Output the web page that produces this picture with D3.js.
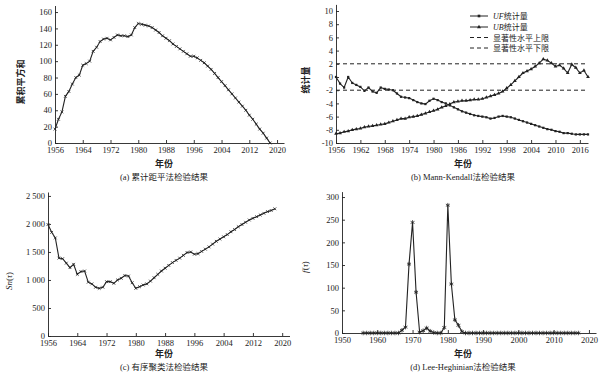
<!DOCTYPE html>
<html>
<head>
<meta charset="utf-8">
<script src="https://cdn.jsdelivr.net/npm/d3@7"></script>
<style>
  body { margin: 0; background: #fff; }
  svg text { font-family: "Liberation Serif", "Noto Sans CJK SC", serif; fill: #222; }
  .axis path, .axis line { stroke: #222; stroke-width: 0.9; }
</style>
</head>
<body>
<svg id="chart" width="600" height="377"></svg>
<script>
(function() {

// years of the record (1956-2018)
const years = [1956,1957,1958,1959,1960,1961,1962,1963,1964,1965,1966,1967,1968,1969,1970,
  1971,1972,1973,1974,1975,1976,1977,1978,1979,1980,1981,1982,1983,1984,1985,1986,1987,
  1988,1989,1990,1991,1992,1993,1994,1995,1996,1997,1998,1999,2000,2001,2002,2003,2004,
  2005,2006,2007,2008,2009,2010,2011,2012,2013,2014,2015,2016,2017,2018];

// (a) cumulative anomaly
const cumAnomaly = [17,29,38,57,63,72,80,83,95,97,100,112,117,124,127,128,126,129,132,131,
  131,130,132,141,146,145,144,143,141,138,135,131,128,125,121,118,115,112,109,106,106,104,
  101,98,94,90,85,80,75,70,65,60,55,50,45,40,34,29,23,17,12,6,0];

// (b) Mann-Kendall
const mkUF = [0,-1.0,-1.6,0.0,-0.9,-1.2,-1.5,-2.1,-1.6,-2.2,-2.4,-1.6,-1.8,-1.9,-2.0,-2.5,
  -3.0,-3.1,-3.2,-3.5,-3.8,-4.0,-4.1,-3.6,-3.3,-3.5,-3.8,-4.0,-4.3,-4.6,-4.9,-5.2,-5.4,
  -5.6,-5.8,-5.9,-6.0,-6.1,-6.3,-6.2,-6.0,-5.9,-6.0,-6.1,-6.3,-6.5,-6.7,-6.9,-7.1,-7.3,
  -7.5,-7.7,-7.9,-8.0,-8.2,-8.3,-8.5,-8.5,-8.6,-8.7,-8.7,-8.7,-8.7];
const mkUB = [-8.6,-8.5,-8.3,-8.2,-8.0,-7.9,-7.8,-7.6,-7.5,-7.4,-7.3,-7.2,-7.1,-6.9,-6.7,
  -6.5,-6.3,-6.3,-6.1,-6.0,-5.9,-5.7,-5.5,-5.3,-5.1,-4.9,-4.6,-4.4,-4.1,-3.8,-3.7,-3.6,
  -3.6,-3.5,-3.4,-3.4,-3.3,-3.1,-2.9,-2.7,-2.5,-2.2,-1.7,-1.2,-0.6,0.0,0.6,0.9,1.2,1.6,
  2.1,2.7,2.5,2.1,1.6,1.8,1.3,0.6,1.9,1.4,0.6,1.0,0.0];
const mkLimits = [2, -2];
const mkLegend = ["UF", "UB", "显著性水平上限", "显著性水平下限"];

// (c) ordered clustering Sn(tau)
const snTau = [1990,1850,1750,1390,1380,1300,1220,1280,1100,1150,1160,960,930,870,850,870,
  970,970,940,1000,1030,1080,1070,950,850,880,910,930,980,1040,1100,1160,1210,1260,1310,
  1350,1390,1440,1490,1500,1460,1470,1510,1550,1590,1640,1690,1730,1770,1810,1860,1900,
  1950,1990,2030,2070,2100,2130,2160,2190,2220,2240,2270];

// (d) Lee-Heghinian f(tau), 1956-2017
const lhYears = years.slice(0, 62);
const lhF = [0,0,0,0,0,0,0,0,0,0,0,6,13,152,244,90,2,5,11,4,1,0,0,12,282,108,29,17,3,0,
  0,0,0,0,0,0,0,0,0,0,0,0,0,0,0,0,0,0,0,0,0,0,0,0,0,0,0,0,0,0,0,0];

const xTicksA = [1956,1964,1972,1980,1988,1996,2004,2012,2020];
const xTicksB = [1956,1962,1968,1974,1980,1986,1992,1998,2004,2010,2016];
const xTicksD = [1950,1960,1970,1980,1990,2000,2010,2020];

const captions = ["(a) 累计距平法检验结果", "(b) Mann-Kendall法检验结果",
                  "(c) 有序聚类法检验结果", "(d) Lee-Heghinian法检验结果"];

const svg = d3.select("#chart");
const ink = "#222";

function drawAxes(x, y, xTicks, yTicks, yFormat) {
    const g = svg.append("g");
    const y0 = y.range()[0];
    const x0 = x.range()[0];
    g.append("g")
        .attr("class", "axis")
        .attr("transform", `translate(0,${y0})`)
        .call(d3.axisBottom(x).tickValues(xTicks).tickFormat(d3.format("d"))
            .tickSizeInner(-3).tickSizeOuter(0).tickPadding(4))
        .call(a => a.selectAll("text").attr("font-size", 8.5).attr("fill", ink));
    g.append("g")
        .attr("class", "axis")
        .attr("transform", `translate(${x0},0)`)
        .call(d3.axisLeft(y).tickValues(yTicks).tickFormat(yFormat || (d => d))
            .tickSizeInner(-3).tickSizeOuter(0).tickPadding(3))
        .call(a => a.selectAll("text").attr("font-size", 8.5).attr("fill", ink));
    g.selectAll("text").attr("font-family", null);
}

function drawSeries(xs, ys, x, y, symbol, size, filled) {
    const pts = xs.map((d, i) => [d, ys[i]]);
    svg.append("path")
        .datum(pts)
        .attr("fill", "none")
        .attr("stroke", ink)
        .attr("stroke-width", 1.1)
        .attr("d", d3.line().x(d => x(d[0])).y(d => y(d[1])));
    svg.append("g")
        .selectAll("path")
        .data(pts)
        .join("path")
        .attr("transform", d => `translate(${x(d[0])},${y(d[1])})`)
        .attr("d", d3.symbol(symbol, size))
        .attr("fill", filled ? ink : "none")
        .attr("stroke", ink)
        .attr("stroke-width", filled ? 0 : 0.8);
}

function yLabel(text, cx, cy, italic, bold) {
    const t = svg.append("text")
        .attr("transform", `translate(${cx},${cy}) rotate(-90)`)
        .attr("text-anchor", "middle")
        .attr("font-size", 9);
    if (italic) t.attr("font-style", "italic");
    if (bold) t.attr("font-weight", "bold");
    t.text(text);
    return t;
}

function xLabel(cx, cy, caption, capY) {
    svg.append("text")
        .attr("x", cx).attr("y", cy)
        .attr("text-anchor", "middle")
        .attr("font-size", 9)
        .attr("font-weight", "bold")
        .text("年份");
    svg.append("text")
        .attr("x", cx).attr("y", capY)
        .attr("text-anchor", "middle")
        .attr("font-size", 8.5)
        .text(caption);
}

// ---- (a) ----
{
    const x = d3.scaleLinear().domain([1956, 2022]).range([55, 284]);
    const y = d3.scaleLinear().domain([0, 168]).range([143, 5.5]);
    drawAxes(x, y, xTicksA, d3.range(0, 161, 20));
    drawSeries(years, cumAnomaly, x, y, d3.symbolTimes, 6, false);
    yLabel("累积平方和", 24, 82, false, true);
    xLabel(164, 167, captions[0], 180);
}

// ---- (b) ----
{
    const x = d3.scaleLinear().domain([1956, 2018]).range([336, 588]);
    const y = d3.scaleLinear().domain([-10, 11]).range([143, 4.4]);
    drawAxes(x, y, xTicksB, d3.range(-10, 11, 2));

    mkLimits.forEach(v => {
        svg.append("line")
            .attr("x1", x(1956)).attr("x2", x(2018))
            .attr("y1", y(v)).attr("y2", y(v))
            .attr("stroke", ink).attr("stroke-width", 1)
            .attr("stroke-dasharray", "4,3");
    });

    drawSeries(years, mkUF, x, y, d3.symbolSquare, 5, true);
    drawSeries(years, mkUB, x, y, d3.symbolTriangle, 6, true);

    // legend
    const lg = svg.append("g").attr("transform", "translate(470,0)");
    const rows = [16, 27, 37.5, 48];
    const syms = [d3.symbolSquare, d3.symbolTriangle, null, null];
    rows.forEach((ry, i) => {
        lg.append("line")
            .attr("x1", 0).attr("x2", 18).attr("y1", ry).attr("y2", ry)
            .attr("stroke", ink).attr("stroke-width", 1)
            .attr("stroke-dasharray", i < 2 ? null : "4,3");
        if (syms[i]) {
            lg.append("path")
                .attr("transform", `translate(9,${ry})`)
                .attr("d", d3.symbol(syms[i], 7))
                .attr("fill", ink);
        }
        const t = lg.append("text")
            .attr("x", 23).attr("y", ry + 3)
            .attr("font-size", 8);
        if (i < 2) {
            t.append("tspan").attr("font-style", "italic").text(mkLegend[i]);
            t.append("tspan").text("统计量");
        } else {
            t.text(mkLegend[i]);
        }
    });

    yLabel("统计量", 309, 80, false, true);
    xLabel(463, 167, captions[1], 180);
}

// ---- (c) ----
{
    const x = d3.scaleLinear().domain([1956, 2022]).range([48, 289.5]);
    const y = d3.scaleLinear().domain([0, 2570]).range([336, 192]);
    const fmt = d => d >= 1000 ? d3.format(",")(d).replace(",", " ") : d;
    drawAxes(x, y, xTicksA, d3.range(0, 2501, 500), fmt);
    drawSeries(years, snTau, x, y, d3.symbolTimes, 6, false);
    const t = yLabel("", 12, 281, false);
    t.append("tspan").attr("font-style", "italic").text("Sn");
    t.append("tspan").text("(");
    t.append("tspan").attr("font-style", "italic").text("τ");
    t.append("tspan").text(")");
    xLabel(164, 357, captions[2], 370);
}

// ---- (d) ----
{
    const x = d3.scaleLinear().domain([1950, 2022]).range([342, 596]);
    const y = d3.scaleLinear().domain([0, 312]).range([333, 191.6]);
    drawAxes(x, y, xTicksD, d3.range(0, 301, 50));
    drawSeries(lhYears, lhF, x, y, d3.symbolAsterisk, 14, false);
    const t = yLabel("", 308, 267, false);
    t.append("tspan").attr("font-style", "italic").text("f");
    t.append("tspan").text("(");
    t.append("tspan").attr("font-style", "italic").text("τ");
    t.append("tspan").text(")");
    xLabel(463, 357, captions[3], 370);
}

})();
</script>
</body>
</html>
